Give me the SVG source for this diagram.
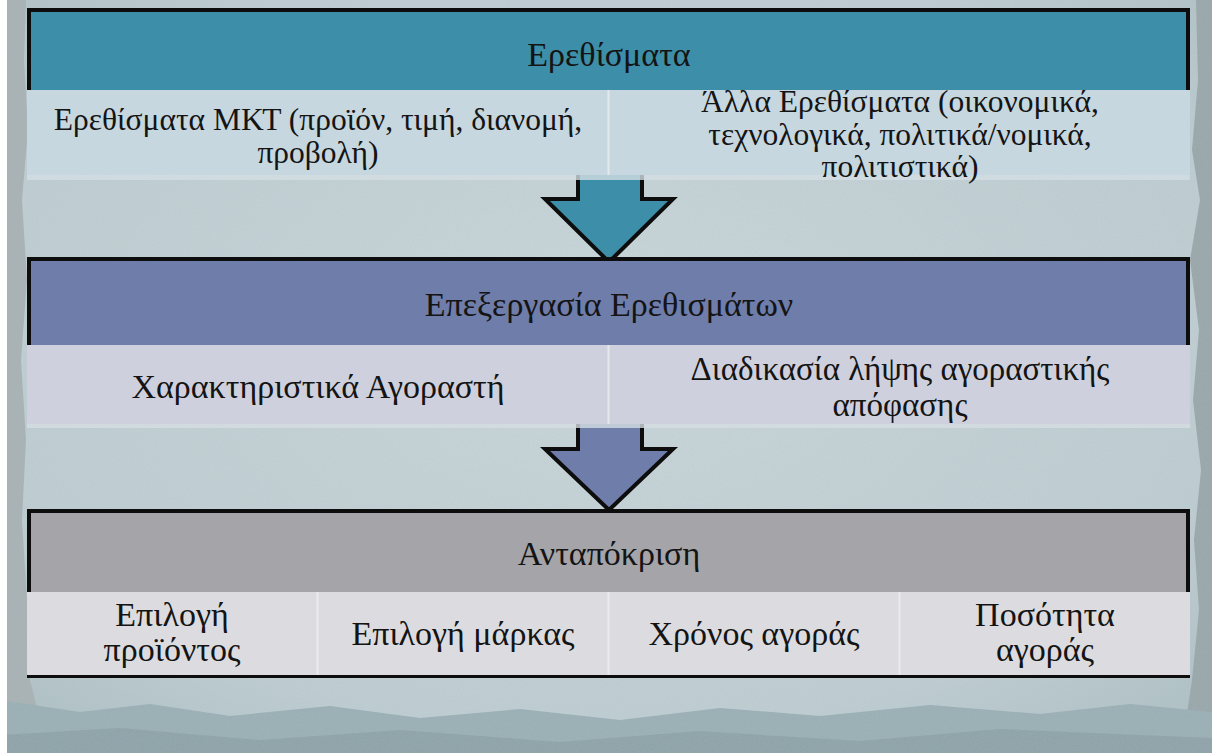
<svg xmlns="http://www.w3.org/2000/svg" width="1212" height="753" viewBox="0 0 1212 753">
<defs>
<style>
.t{font-family:'Liberation Serif','Times New Roman','DejaVu Serif',serif;fill:#141414;text-anchor:middle}
.ti{font-size:34px}
.s1{font-size:31.5px}
.s2{font-size:34px}
.s3{font-size:33px}
.hd{stroke:#0d0d0d;stroke-width:4}
.arw{stroke:#0d0d0d;stroke-width:4;stroke-linejoin:miter}
.div{stroke:#eef2f4;stroke-width:2;opacity:.7}
</style>
<radialGradient id="bg" cx="0.5" cy="0.45" r="0.75">
<stop offset="0" stop-color="#cbd9dd"/>
<stop offset="0.7" stop-color="#bfcfd4"/>
<stop offset="1" stop-color="#a9bcc1"/>
</radialGradient>
<filter id="noise" x="0" y="0" width="100%" height="100%">
<feTurbulence type="fractalNoise" baseFrequency="0.9" numOctaves="2" seed="3"/>
<feColorMatrix type="matrix" values="0 0 0 0 0.45  0 0 0 0 0.5  0 0 0 0 0.52  0 0 0 0.35 0"/>
</filter>
</defs>
<g id="background">
<rect x="0" y="0" width="1212" height="753" fill="url(#bg)"/>
<path d="M7 0 L26 0 L24 60 L28 130 L22 200 L27 280 L21 360 L26 440 L22 520 L27 600 L30 680 L40 720 L30 753 L7 753 Z" fill="#a7b1b4"/>
<path d="M1212 0 L1196 0 L1198 80 L1192 150 L1200 200 L1190 260 L1199 330 L1193 400 L1201 470 L1194 540 L1199 610 L1192 680 L1186 720 L1190 753 L1212 753 Z" fill="#96a4a8"/>
<path d="M0 700 L80 712 L150 704 L230 716 L330 706 L420 718 L520 709 L620 720 L720 708 L820 716 L930 705 L1040 714 L1130 704 L1212 712 L1212 753 L0 753 Z" fill="#97aeb4"/>
<path d="M0 735 L120 728 L260 740 L400 730 L560 742 L700 731 L860 741 L1000 729 L1212 738 L1212 753 L0 753 Z" fill="#8aa0a7"/>
<rect x="0" y="0" width="1212" height="753" filter="url(#noise)"/>
<rect x="0" y="0" width="7" height="753" fill="#ffffff"/>
</g>
<g id="connectors">
<polygon class="arw" fill="#3d8ea8" points="578,168 642,168 642,199 673,199 609,262 545,199 578,199"/>
<polygon class="arw" fill="#6f7daa" points="578,418 642,418 642,449 673,449 609,510 545,449 578,449"/>
</g>
<g id="box-stimuli" font-family="Liberation Serif, serif">
<rect class="hd" x="29" y="10" width="1159" height="82" fill="#3d8ea8"/>
<rect x="27" y="90" width="1163" height="85" fill="#c6d7df"/>
<rect x="27" y="175" width="1163" height="5" fill="#d3dfe3" opacity="0.8"/>
<line class="div" x1="608.5" y1="90" x2="608.5" y2="175"/>
<text class="t ti" x="609" y="66">Ερεθίσματα</text>
<text class="t s1" x="318" y="130">Ερεθίσματα ΜΚΤ (προϊόν, τιμή, διανομή,</text>
<text class="t s1" x="318" y="163">προβολή)</text>
<text class="t s1" x="900" y="112">Άλλα Ερεθίσματα (οικονομικά,</text>
<text class="t s1" x="900" y="145">τεχνολογικά, πολιτικά/νομικά,</text>
<text class="t s1" x="900" y="177">πολιτιστικά)</text>
</g>
<g id="box-processing" font-family="Liberation Serif, serif">
<rect class="hd" x="29" y="259" width="1159" height="88" fill="#6f7daa"/>
<rect x="27" y="345" width="1163" height="79" fill="#ced1dd"/>
<rect x="27" y="424" width="1163" height="4" fill="#d6dde2" opacity="0.8"/>
<line class="div" x1="608.5" y1="345" x2="608.5" y2="424"/>
<text class="t ti" x="609" y="316">Επεξεργασία Ερεθισμάτων</text>
<text class="t s2" x="318" y="398">Χαρακτηριστικά Αγοραστή</text>
<text class="t s3" x="900" y="380">Διαδικασία λήψης αγοραστικής</text>
<text class="t s3" x="900" y="416">απόφασης</text>
</g>
<g id="box-response" font-family="Liberation Serif, serif">
<rect class="hd" x="29" y="511" width="1159" height="83" fill="#a5a4a9"/>
<rect x="27" y="592" width="1163" height="83" fill="#dcdce0"/>
<line x1="27" y1="676.5" x2="1190" y2="676.5" stroke="#0d0d0d" stroke-width="3"/>
<line class="div" x1="317.5" y1="592" x2="317.5" y2="675"/>
<line class="div" x1="608.5" y1="592" x2="608.5" y2="675"/>
<line class="div" x1="899.5" y1="592" x2="899.5" y2="675"/>
<text class="t ti" x="609" y="565">Ανταπόκριση</text>
<text class="t s2" x="172" y="626">Επιλογή</text>
<text class="t s2" x="172" y="661">προϊόντος</text>
<text class="t s2" x="463" y="645">Επιλογή μάρκας</text>
<text class="t s2" x="754" y="645">Χρόνος αγοράς</text>
<text class="t s2" x="1045" y="626">Ποσότητα</text>
<text class="t s2" x="1045" y="661">αγοράς</text>
</g>
</svg>
